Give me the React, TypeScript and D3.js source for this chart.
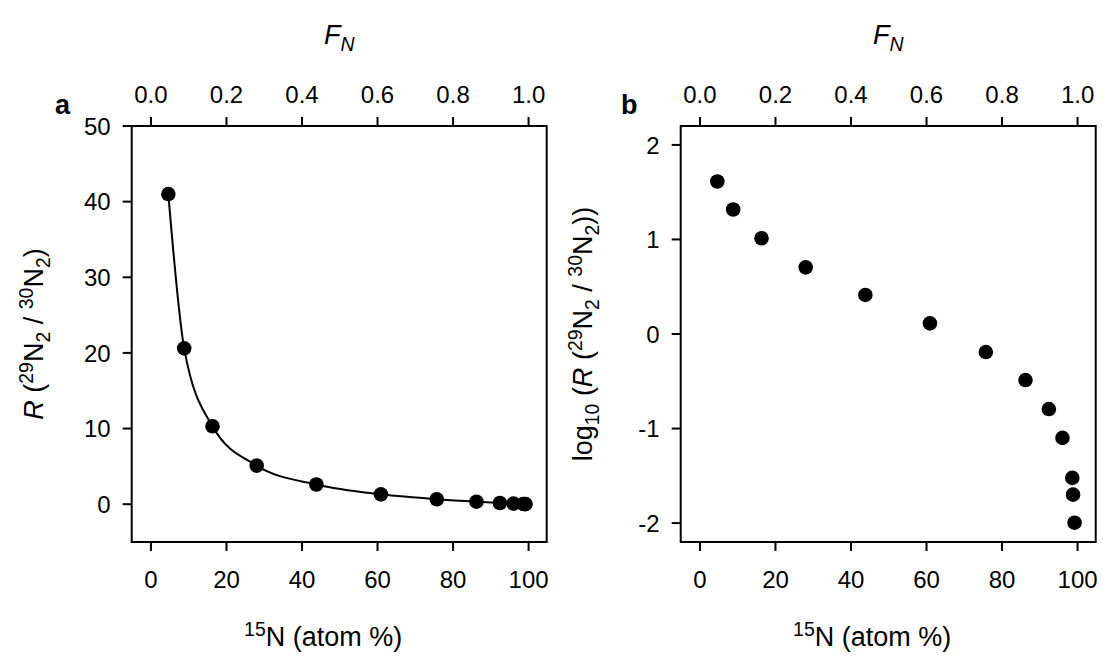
import React from "react";
import * as d3 from "d3";

// ---- data ----
const atomPct = [4.6, 8.8, 16.3, 28.0, 43.8, 60.9, 75.7, 86.2, 92.4, 96.0, 98.6, 98.8, 99.2];
const ratioR = [41.0, 20.6, 10.3, 5.1, 2.6, 1.3, 0.65, 0.33, 0.16, 0.08, 0.03, 0.02, 0.01];
const log10R = [1.613, 1.317, 1.013, 0.705, 0.413, 0.112, -0.191, -0.487, -0.794, -1.099, -1.522, -1.699, -1.996];
const xTicks = [0, 20, 40, 60, 80, 100];
const fTicks = [0.0, 0.2, 0.4, 0.6, 0.8, 1.0];
const yTicksA = [0, 10, 20, 30, 40, 50];
const yTicksB = [-2, -1, 0, 1, 2];

const W = 1103;
const H = 659;
const FONT = "'Liberation Sans', Arial, Helvetica, sans-serif";
const TICK = 9;
const TICK_FS = 24;
const TITLE_FS = 27;
const YTITLE_FS = 27;

const TOP = 126;
const BOTTOM = 542;

type PanelProps = {
  left: number;
  right: number;
  yDomain: [number, number];
  yTicks: number[];
  yVals: number[];
  letter: string;
  letterX: number;
  yTitle: React.ReactNode;
  curve?: boolean;
};

function Panel({ left, right, yDomain, yTicks, yVals, letter, letterX, yTitle, curve }: PanelProps) {
  const x = d3.scaleLinear().domain([-5.1, 104.8]).range([left, right]);
  const f = d3.scaleLinear().domain([-0.051, 1.048]).range([left, right]);
  const y = d3.scaleLinear().domain(yDomain).range([BOTTOM, TOP]);
  const pts = atomPct.map((a, i) => [a, yVals[i]] as [number, number]);
  const line = d3
    .line<[number, number]>()
    .x((d) => x(d[0]))
    .y((d) => y(d[1]))
    .curve(d3.curveMonotoneX);
  const cx = (left + right) / 2;
  const cy = (TOP + BOTTOM) / 2;
  const sup = TITLE_FS * 0.72;
  return (
    <g fontFamily={FONT} fill="#000">
      {/* box */}
      <rect x={left} y={TOP} width={right - left} height={BOTTOM - TOP} fill="none" stroke="#000" strokeWidth={2} />
      {/* bottom axis */}
      {xTicks.map((t) => (
        <g key={"b" + t}>
          <line x1={x(t)} x2={x(t)} y1={BOTTOM} y2={BOTTOM + TICK} stroke="#000" strokeWidth={2} />
          <text x={x(t)} y={BOTTOM + 46} textAnchor="middle" fontSize={TICK_FS}>
            {t}
          </text>
        </g>
      ))}
      {/* top axis */}
      {fTicks.map((t) => (
        <g key={"t" + t}>
          <line x1={f(t)} x2={f(t)} y1={TOP} y2={TOP - TICK} stroke="#000" strokeWidth={2} />
          <text x={f(t)} y={TOP - 23} textAnchor="middle" fontSize={TICK_FS}>
            {t.toFixed(1)}
          </text>
        </g>
      ))}
      {/* left axis */}
      {yTicks.map((t) => (
        <g key={"l" + t}>
          <line x1={left} x2={left - TICK} y1={y(t)} y2={y(t)} stroke="#000" strokeWidth={2} />
          <text x={left - 21} y={y(t)} dy="0.36em" textAnchor="end" fontSize={TICK_FS}>
            {t}
          </text>
        </g>
      ))}
      {/* titles */}
      <text x={cx} y={44} textAnchor="middle" fontSize={TITLE_FS}>
        <tspan fontStyle="italic">F</tspan>
        <tspan fontStyle="italic" fontSize={sup} baselineShift="-7">
          N
        </tspan>
      </text>
      <text x={cx - 16} y={646} textAnchor="middle" fontSize={TITLE_FS}>
        <tspan fontSize={sup} baselineShift="10">
          15
        </tspan>
        <tspan>N (atom %)</tspan>
      </text>
      <text transform={`translate(${left - 89},${cy}) rotate(-90)`} textAnchor="middle" fontSize={YTITLE_FS}>
        {yTitle}
      </text>
      <text x={letterX} y={114} fontSize={27} fontWeight="bold">
        {letter}
      </text>
      {/* curve */}
      {curve && <path d={line(pts) || ""} fill="none" stroke="#000" strokeWidth={2} />}
      {/* points */}
      {pts.map((p, i) => (
        <circle key={i} cx={x(p[0])} cy={y(p[1])} r={7.3} fill="#000" />
      ))}
    </g>
  );
}

const SUP = YTITLE_FS * 0.72;

function ratioLabel() {
  return (
    <>
      <tspan>(</tspan>
      <tspan fontSize={SUP} baselineShift="10">29</tspan>
      <tspan>N</tspan>
      <tspan fontSize={SUP} baselineShift="-7">2</tspan>
      <tspan>{"\u00a0/\u00a0"}</tspan>
      <tspan fontSize={SUP} baselineShift="10">30</tspan>
      <tspan>N</tspan>
      <tspan fontSize={SUP} baselineShift="-7">2</tspan>
      <tspan>)</tspan>
    </>
  );
}

export default function App() {
  const titleA = (
    <>
      <tspan fontStyle="italic">R</tspan>
      <tspan>{"\u00a0"}</tspan>
      {ratioLabel()}
    </>
  );
  const titleB = (
    <>
      <tspan>log</tspan>
      <tspan fontSize={SUP} baselineShift="-7">10</tspan>
      <tspan>{"\u00a0("}</tspan>
      <tspan fontStyle="italic">R</tspan>
      <tspan>{"\u00a0"}</tspan>
      {ratioLabel()}
      <tspan>)</tspan>
    </>
  );
  return (
    <svg
      width={W}
      height={H}
      viewBox={`0 0 ${W} ${H}`}
      style={{ position: "absolute", left: 0, top: 0, background: "#fff" }}
    >
      <rect x={0} y={0} width={W} height={H} fill="#fff" />
      <Panel
        left={131.7}
        right={546.7}
        yDomain={[-5, 50]}
        yTicks={yTicksA}
        yVals={ratioR}
        letter="a"
        letterX={55}
        yTitle={titleA}
        curve
      />
      <Panel
        left={680.7}
        right={1095.7}
        yDomain={[-2.2, 2.2]}
        yTicks={yTicksB}
        yVals={log10R}
        letter="b"
        letterX={621}
        yTitle={titleB}
      />
    </svg>
  );
}
